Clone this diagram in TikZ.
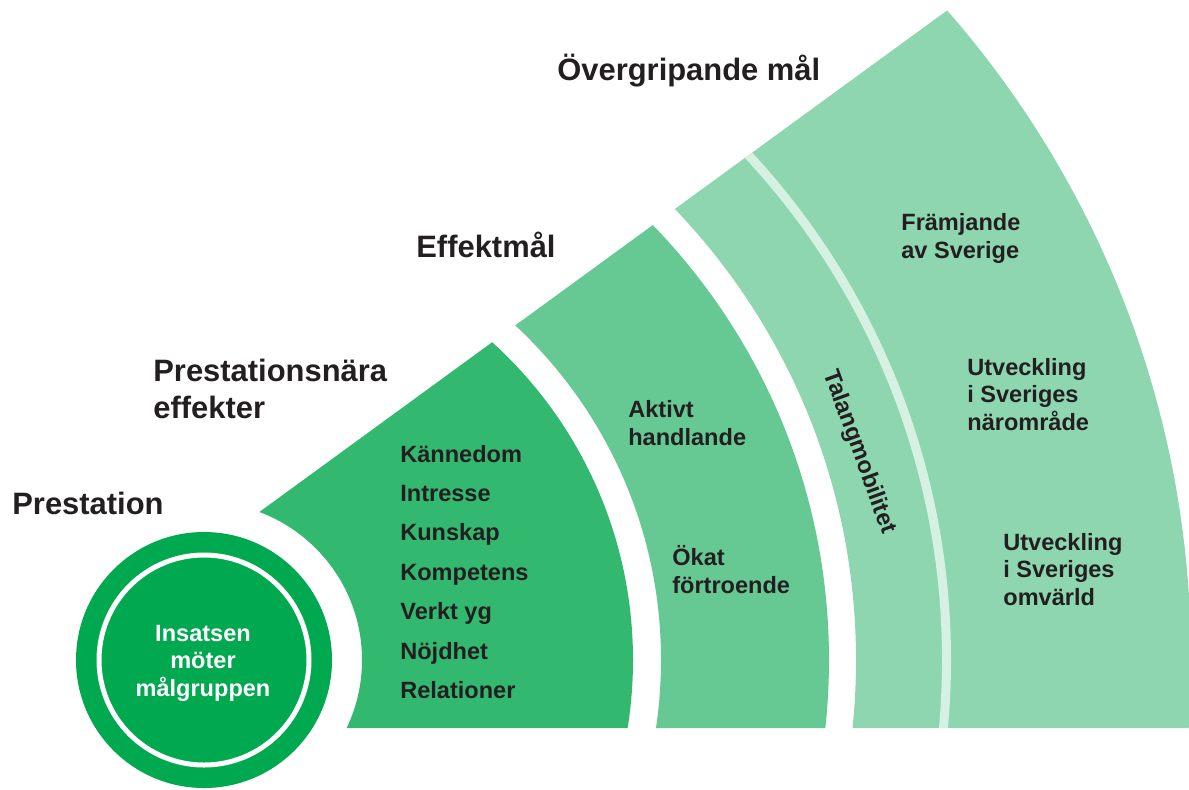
\documentclass[tikz,border=0pt]{standalone}
\usepackage{fontspec}
\setmainfont{Liberation Sans}
\usepackage{xcolor}
\usetikzlibrary{positioning}
\definecolor{ink}{HTML}{231F20}
\definecolor{ringgreen}{HTML}{00A84F}
\definecolor{firstband}{HTML}{33B870}
\definecolor{secondband}{HTML}{66C994}
\definecolor{thirdband}{HTML}{8DD6AF}
\definecolor{bandline}{HTML}{D6F0E1}

\begin{document}
\begin{tikzpicture}[x=0.02cm,y=-0.02cm]
  \tikzstyle{head}=[font=\fontsize{17.6}{20.7}\selectfont\bfseries,text=ink,align=left,anchor=base west,inner sep=0pt]
  \tikzstyle{item}=[font=\fontsize{13.4}{15.6}\selectfont\bfseries,text=ink,align=left,anchor=base west,inner sep=0pt]
  \useasboundingbox (0,0) rectangle (1189,789);
  \coordinate (c) at (204,660);
  % bands, cut by the base line and the slanted top line
  \begin{scope}
    \clip (204,728) -- (1189,728) -- (1189,-166) -- (204,552.4) -- cycle;
    \fill[firstband,even odd rule] (c) circle[radius=429] (c) circle[radius=158];
    \fill[secondband,even odd rule] (c) circle[radius=625] (c) circle[radius=457];
    \fill[thirdband,even odd rule] (c) circle[radius=987] (c) circle[radius=652];
    \draw[bandline,line width=0.18cm] (c) circle[radius=742.5];
  \end{scope}
  \fill[ringgreen] (c) circle[radius=128];
  \draw[white,line width=0.1cm] (c) circle[radius=105];
  \node (0) [item,text=white,align=center,anchor=center] at (203,663) {Insatsen\\möter\\målgruppen};

  % base anchor of a multi-line node sits on its last line
  \node (1) [head] at (12,514) {Prestation};
  \node (2) [head] at (153,418) {Prestationsnära\\effekter};
  \node (3) [head] at (416,257) {Effektmål};
  \node (4) [head] at (557,80) {Övergripande mål};

  \node (5) [item] at (400,462) {Kännedom};
  \node (6) [item,below=0.79cm of 5.base west,anchor=base west] {Intresse};
  \node (7) [item,below=0.79cm of 6.base west,anchor=base west] {Kunskap};
  \node (8) [item,below=0.79cm of 7.base west,anchor=base west] {Kompetens};
  \node (9) [item,below=0.79cm of 8.base west,anchor=base west] {Verkt yg};
  \node (10) [item,below=0.79cm of 9.base west,anchor=base west] {Nöjdhet};
  \node (11) [item,below=0.79cm of 10.base west,anchor=base west] {Relationer};

  \node (12) [item] at (628,445) {Aktivt\\handlande};
  \node (13) [item] at (672,593) {Ökat\\förtroende};
  \node (14) [item,rotate=-70,anchor=center] at (859,452) {Talangmobilitet};
  \node (15) [item] at (901,258) {Främjande\\av Sverige};
  \node (16) [item] at (967,430) {Utveckling\\i Sveriges\\närområde};
  \node (17) [item] at (1003,605) {Utveckling\\i Sveriges\\omvärld};
\end{tikzpicture}
\end{document}
